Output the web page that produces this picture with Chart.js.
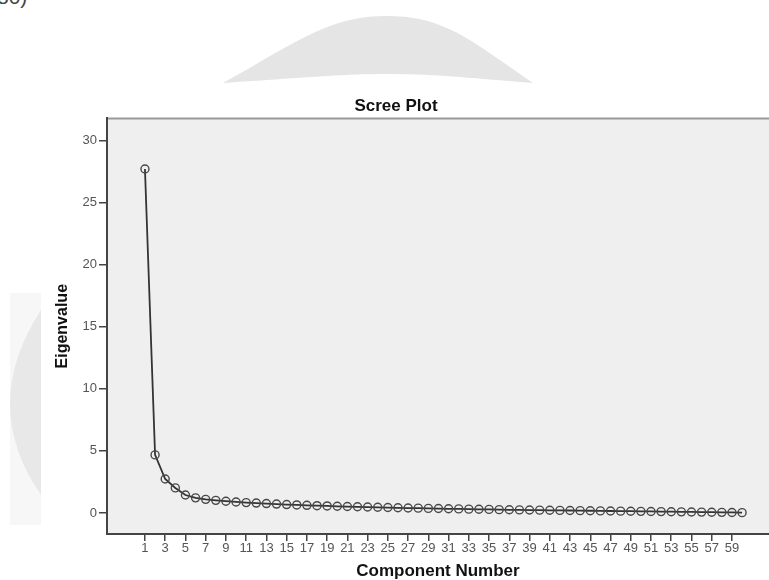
<!DOCTYPE html>
<html>
<head>
<meta charset="utf-8">
<script src="https://cdn.jsdelivr.net/npm/chart.js@4.4.1/dist/chart.umd.min.js"></script>
<style>
  body { margin: 0; background: #fff; overflow: hidden; }
  #wrap { position: relative; width: 769px; height: 580px; }
  #marks { position: absolute; left: 0; top: 0; }
  #corner { position: absolute; left: -3px; top: -15px; font: 21px 'Liberation Sans', Arial, sans-serif; color: #444; }
  canvas { position: absolute; left: 0; top: 0; }
</style>
</head>
<body>
<div id="wrap">
  <svg id="marks" width="769" height="580">
    <path d="M223 83 C300 40 330 16 387 16 C445 16 470 40 533 83 Z" fill="#e5e5e5"/>
    <path d="M223 83 C300 78 340 74 387 74 C435 74 470 78 533 83 Z" fill="#fff"/>
    <rect x="10" y="293" width="31" height="232" fill="#f7f7f7"/>
    <path d="M41 310 Q -21 405 41 495 Z" fill="#e8e8e8"/>
  </svg>
  <div id="corner">80)</div>
  <canvas id="chart1" width="769" height="580"></canvas>
</div>
<script>
const ctx1 = document.getElementById('chart1').getContext('2d');

const components = [1, 2, 3, 4, 5, 6, 7, 8, 9, 10, 11, 12, 13, 14, 15, 16, 17, 18, 19, 20,
    21, 22, 23, 24, 25, 26, 27, 28, 29, 30, 31, 32, 33, 34, 35, 36, 37, 38, 39, 40,
    41, 42, 43, 44, 45, 46, 47, 48, 49, 50, 51, 52, 53, 54, 55, 56, 57, 58, 59, 60];
const eigenvalues = [27.7, 4.68, 2.74, 2.02, 1.45, 1.22, 1.10, 1.02, 0.95, 0.89,
    0.84, 0.80, 0.76, 0.72, 0.68, 0.65, 0.62, 0.59, 0.57, 0.54,
    0.52, 0.50, 0.48, 0.46, 0.44, 0.42, 0.40, 0.39, 0.37, 0.36,
    0.34, 0.33, 0.31, 0.30, 0.29, 0.27, 0.26, 0.25, 0.24, 0.23,
    0.22, 0.21, 0.20, 0.19, 0.18, 0.17, 0.16, 0.15, 0.145, 0.135,
    0.125, 0.115, 0.105, 0.095, 0.085, 0.075, 0.065, 0.055, 0.045, 0.03];
const xTicks = [1, 3, 5, 7, 9, 11, 13, 15, 17, 19, 21, 23, 25, 27, 29,
    31, 33, 35, 37, 39, 41, 43, 45, 47, 49, 51, 53, 55, 57, 59];
const yTicks = [0, 5, 10, 15, 20, 25, 30];

Chart.defaults.font.family = "'Liberation Sans', Arial, sans-serif";

// grey plot panel and its light top edge
const panel = {
    id: 'panel',
    beforeDraw(chart) {
        const { ctx, chartArea: a } = chart;
        ctx.save();
        ctx.fillStyle = '#efefef';
        ctx.fillRect(a.left, a.top, a.right - a.left, a.bottom - a.top);
        ctx.strokeStyle = '#9a9a9a';
        ctx.lineWidth = 2;
        ctx.beginPath();
        ctx.moveTo(a.left, a.top);
        ctx.lineTo(a.right, a.top);
        ctx.stroke();
        ctx.restore();
    }
};

const tickStyle = { color: '#555', font: { size: 13 } };

let chart1 = new Chart(ctx1, {
    type: 'line',
    data: {
        datasets: [{
            label: 'Eigenvalue',
            data: components.map((c, i) => ({ x: c, y: eigenvalues[i] })),
            borderColor: '#333',
            borderWidth: 1.8,
            tension: 0,
            pointRadius: 4,
            pointBorderWidth: 1.4,
            pointBorderColor: '#484848',
            pointBackgroundColor: 'rgba(0,0,0,0)'
        }]
    },
    options: {
        responsive: false,
        animation: false,
        layout: { autoPadding: false, padding: { left: 23, top: 96, right: 0, bottom: 0 } },
        plugins: {
            legend: { display: false },
            tooltip: { enabled: false },
            title: {
                display: true,
                text: 'Scree Plot',
                color: '#111',
                font: { size: 17, weight: 'bold', lineHeight: 1.2 },
                padding: { top: 0, bottom: 2 }
            }
        },
        scales: {
            x: {
                type: 'linear',
                min: -2.75,
                max: 62.66,
                afterBuildTicks: s => { s.ticks = xTicks.map(v => ({ value: v })); },
                afterFit: s => { s.height = 46; s.paddingLeft = 0; s.paddingRight = 0; },
                ticks: { ...tickStyle, padding: 0, maxRotation: 0, autoSkip: false },
                grid: { drawOnChartArea: false, tickLength: 7, color: '#444', lineWidth: 1.5 },
                border: { color: '#444', width: 2 },
                title: {
                    display: true,
                    text: 'Component Number',
                    color: '#111',
                    font: { size: 17, weight: 'bold', lineHeight: 1 },
                    padding: 0
                }
            },
            y: {
                min: -1.69,
                max: 31.77,
                afterBuildTicks: s => { s.ticks = yTicks.map(v => ({ value: v })); },
                afterFit: s => { s.width = 84; s.paddingTop = 0; s.paddingBottom = 0; },
                ticks: { ...tickStyle, padding: 2 },
                grid: { drawOnChartArea: false, tickLength: 8, color: '#444', lineWidth: 1.5 },
                border: { color: '#444', width: 2 },
                title: {
                    display: true,
                    text: 'Eigenvalue',
                    color: '#111',
                    font: { size: 16, weight: 'bold', lineHeight: 1 },
                    padding: { top: 32, bottom: 0 }
                }
            }
        }
    },
    plugins: [panel]
});
</script>
</body>
</html>
